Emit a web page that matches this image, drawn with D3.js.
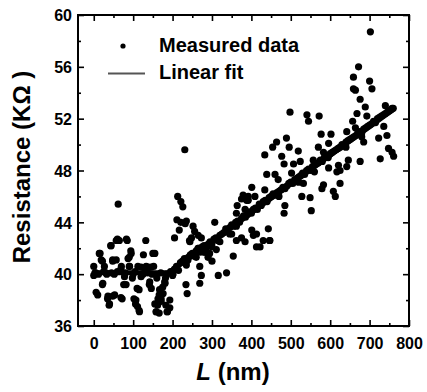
<!DOCTYPE html>
<html><head><meta charset="utf-8">
<script src="https://cdn.jsdelivr.net/npm/d3@7"></script>
<style>html,body{margin:0;padding:0;background:#fff;}svg{display:block;}</style>
</head><body>
<script>
// ---- data ----
const xTicks = [0,100,200,300,400,500,600,700,800];
const yTicks = [36,40,44,48,52,56,60];
const legendLabels = ["Measured data","Linear fit"];
// fit line vertices (L nm, R kOhm)
const fitL = [0,190,760];
const fitR = [40.1,40.1,52.7];
// measured data (L nm)
const dataL = [
0,0,3,6,10,14,16,19,22,22,23,27,31,35,36,40,39,43,44,48,48,48,53,57,57,60,62,65,69,69,70,72,76,78,82,83,85,87,90,90,91,94,95,98,102,106,107,110,111,112,115,115,116,120,120,126,132,133,137,137,141,142,145,146,150,152,155,155,158,159,160,162,163,166,166,167,171,171,175,176,180,181,182,183,186,187,193,193,
5,12,25,33,45,52,60,80,100,105,125,130,148,170,185,
195,200,205,210,215,220,225,230,235,240,245,250,255,260,265,270,275,280,285,290,295,300,305,310,315,320,325,330,335,340,345,350,355,360,365,370,375,380,385,390,395,400,405,410,415,420,425,430,435,440,445,450,455,460,465,470,475,480,485,490,495,500,505,510,515,520,525,530,535,540,545,550,555,560,565,570,575,580,585,590,595,600,605,610,615,620,625,630,635,640,645,650,655,660,665,670,675,680,685,690,695,700,705,710,715,720,725,730,735,740,745,750,755,760,
201,205,211,213,217,221,221,226,231,232,234,235,235,237,239,243,244,248,252,256,265,265,269,269,273,273,282,290,294,300,307,311,316,337,354,362,362,364,375,379,384,384,388,392,401,401,405,409,413,434,434,439,443,447,454,460,464,468,477,483,483,485,489,496,498,502,507,519,524,528,532,541,545,549,552,557,570,572,577,579,583,583,596,596,602,608,613,617,621,625,625,642,642,646,657,659,659,664,664,668,672,676,676,685,689,693,700,702,706,723,727,736,740,744,748,757,757,761,
375,392,362,350,413,422,430,446,
260,280,300,320,345,470,520,560,640,680
];
// measured data (R kOhm)
const dataR = [
40.6,39.9,40.1,38.6,38.4,41.6,41.6,41.1,41.0,39.2,39.3,40.6,40.1,38.1,38.3,37.7,37.6,42.2,42.2,41.1,41.0,38.3,38.4,41.1,42.6,42.7,45.4,42.6,40.4,38.2,40.6,38.1,39.2,39.8,39.2,42.7,42.6,41.2,40.6,41.3,40.6,41.8,41.6,39.7,38.1,37.7,38.0,38.9,37.5,40.6,37.2,38.8,37.1,39.8,40.55,41.5,42.6,40.6,40.1,40.55,39.2,39.4,40.55,38.9,41.6,40.6,41.6,37.7,37.1,37.1,39.7,37.6,38.1,38.4,37.0,38.8,38.1,37.9,39.0,38.5,39.4,39.3,39.7,37.6,37.1,37.1,37.4,38.0,
40.1,40.0,40.2,40.0,40.1,40.0,40.2,40.1,40.0,40.2,40.0,40.2,40.0,40.1,40.0,
40.2,39.9,40.4,40.6,40.3,40.9,41.0,41.2,41.0,41.3,41.5,41.6,41.4,41.8,42.0,41.7,42.1,42.2,42.0,42.3,42.5,42.4,42.7,42.8,42.6,43.0,43.1,43.2,43.5,43.4,43.6,43.8,43.7,44.0,44.1,44.0,44.3,44.5,44.4,44.6,44.8,44.7,45.0,45.1,45.0,45.4,45.3,45.6,45.7,45.6,45.9,46.0,46.2,46.1,46.3,46.4,46.5,46.7,46.6,46.8,47.0,47.1,47.0,47.3,47.4,47.5,47.6,47.8,47.7,48.0,48.1,48.0,48.3,48.4,48.5,48.6,48.8,48.7,49.0,49.1,49.0,49.3,49.4,49.5,49.6,49.7,49.8,50.0,49.9,50.2,50.3,50.4,50.5,50.6,50.7,50.9,51.0,50.9,51.2,51.3,51.4,51.5,51.6,51.8,51.7,52.0,52.1,52.2,52.3,52.4,52.5,52.6,52.7,52.8,
40.0,42.8,44.2,46.0,43.4,45.6,44.0,45.2,49.6,43.9,39.2,44.1,40.7,38.5,41.1,42.6,42.5,42.8,43.7,43.3,43.0,42.0,40.6,39.3,42.8,39.9,41.7,41.3,41.6,41.0,44.0,41.9,39.9,40.1,41.4,44.7,42.6,45.3,42.8,46.1,45.0,42.5,45.7,45.7,46.7,43.4,43.0,46.0,42.1,46.5,49.2,47.7,43.5,42.6,49.8,47.7,50.2,47.3,49.1,48.5,44.7,45.3,50.5,49.8,52.5,47.8,48.5,49.5,48.7,46.0,47.0,52.3,51.8,45.9,44.9,48.8,49.8,52.2,50.8,46.6,49.4,46.9,50.1,48.2,50.8,46.4,46.0,47.9,48.4,48.0,47.0,48.3,51.0,48.8,51.8,54.3,55.2,51.3,54.2,52.4,56.0,53.5,48.7,50.2,52.9,52.2,54.9,58.7,54.3,50.5,48.9,51.4,53.0,50.7,49.7,49.4,52.8,49.1,
45.8,46.0,43.7,43.1,43.1,42.1,42.6,42.6,
41.3,41.7,42.1,42.5,43.1,46.0,47.1,47.9,49.8,50.6
];

const W = 427, H = 392;
const pL = 78, pR = 409, pT = 15, pB = 326;
const FONT = "'Liberation Sans', Arial, Helvetica, sans-serif";

const svg = d3.select("body").append("svg").attr("width", W).attr("height", H);

const x = d3.scaleLinear().domain([-40, 800]).range([pL, pR]);
const y = d3.scaleLinear().domain([36, 60]).range([pB, pT]);

const xMinor = d3.range(0, 801, 50);
const yMinor = d3.range(36, 61, 2);

// bottom ticks
svg.append("g").attr("transform", `translate(0,${pB})`)
  .call(d3.axisTop(x).tickValues(xMinor).tickSizeInner(0).tickSizeOuter(0).tickFormat(""))
  .call(g=>g.select(".domain").remove())
  .call(g=>g.selectAll(".tick line").attr("y2", d=> d%100===0 ? -6 : -3).attr("stroke","#000").attr("stroke-width",1.6));
// top ticks
svg.append("g").attr("transform", `translate(0,${pT})`)
  .call(d3.axisBottom(x).tickValues(xMinor).tickSizeInner(0).tickSizeOuter(0).tickFormat(""))
  .call(g=>g.select(".domain").remove())
  .call(g=>g.selectAll(".tick line").attr("y2", d=> d%100===0 ? 6 : 3).attr("stroke","#000").attr("stroke-width",1.6));
// left ticks
svg.append("g").attr("transform", `translate(${pL},0)`)
  .call(d3.axisRight(y).tickValues(yMinor).tickSizeInner(0).tickSizeOuter(0).tickFormat(""))
  .call(g=>g.select(".domain").remove())
  .call(g=>g.selectAll(".tick line").attr("x2", d=> d%4===0 ? 6 : 3).attr("stroke","#000").attr("stroke-width",1.6));
// right ticks
svg.append("g").attr("transform", `translate(${pR},0)`)
  .call(d3.axisLeft(y).tickValues(yMinor).tickSizeInner(0).tickSizeOuter(0).tickFormat(""))
  .call(g=>g.select(".domain").remove())
  .call(g=>g.selectAll(".tick line").attr("x2", d=> d%4===0 ? -6 : -3).attr("stroke","#000").attr("stroke-width",1.6));

// frame
svg.append("rect").attr("x", pL).attr("y", pT).attr("width", pR-pL).attr("height", pB-pT)
  .attr("fill","none").attr("stroke","#000").attr("stroke-width",2);

// tick labels
const xl = svg.append("g").attr("transform", `translate(0,${pB})`)
  .call(d3.axisBottom(x).tickValues(xTicks).tickSize(0).tickPadding(0).tickFormat(d3.format("d")));
xl.select(".domain").remove();
xl.selectAll("text").attr("y", 23).attr("dy", null).attr("font-family", FONT).attr("font-size", 16).attr("font-weight","bold").attr("fill","#000");

const yl = svg.append("g").attr("transform", `translate(${pL},0)`)
  .call(d3.axisLeft(y).tickValues(yTicks).tickSize(0).tickPadding(6).tickFormat(d3.format("d")));
yl.select(".domain").remove();
yl.selectAll("text").attr("font-family", FONT).attr("font-size", 16).attr("font-weight","bold").attr("fill","#000").attr("dy","0.36em");

// axis titles
const xt = svg.append("text").attr("x", 233).attr("y", 380).attr("text-anchor","middle")
  .attr("font-family", FONT).attr("font-size", 24).attr("font-weight","bold").attr("fill","#000");
xt.append("tspan").attr("font-style","italic").text("L");
xt.append("tspan").text(" (nm)");

svg.append("text").attr("transform", "translate(30,167) rotate(-90)").attr("text-anchor","middle")
  .attr("font-family", FONT).attr("font-size", 24).attr("font-weight","bold").attr("fill","#000")
  .text("Resistance (KΩ )");

// fit line
const line = d3.line().x(d=>x(d[0])).y(d=>y(d[1]));
svg.append("path").datum(fitL.map((l,i)=>[l, fitR[i]])).attr("d", line)
  .attr("fill","none").attr("stroke","#000").attr("stroke-width",5).attr("stroke-linejoin","round");

// points
svg.append("g").selectAll("circle").data(dataL.map((l,i)=>[l, dataR[i]])).join("circle")
  .attr("cx", d=>x(d[0])).attr("cy", d=>y(d[1])).attr("r", 3.6).attr("fill","#000");

// legend
svg.append("circle").attr("cx",123).attr("cy",46).attr("r",2.6).attr("fill","#000");
svg.append("line").attr("x1",108).attr("x2",145).attr("y1",73.5).attr("y2",73.5).attr("stroke","#555").attr("stroke-width",2);
svg.append("text").attr("x",159).attr("y",51.5).attr("font-family",FONT).attr("font-size",20).attr("font-weight","bold").attr("fill","#000").text(legendLabels[0]);
svg.append("text").attr("x",159).attr("y",79).attr("font-family",FONT).attr("font-size",20).attr("font-weight","bold").attr("fill","#000").text(legendLabels[1]);
</script>
</body></html>
